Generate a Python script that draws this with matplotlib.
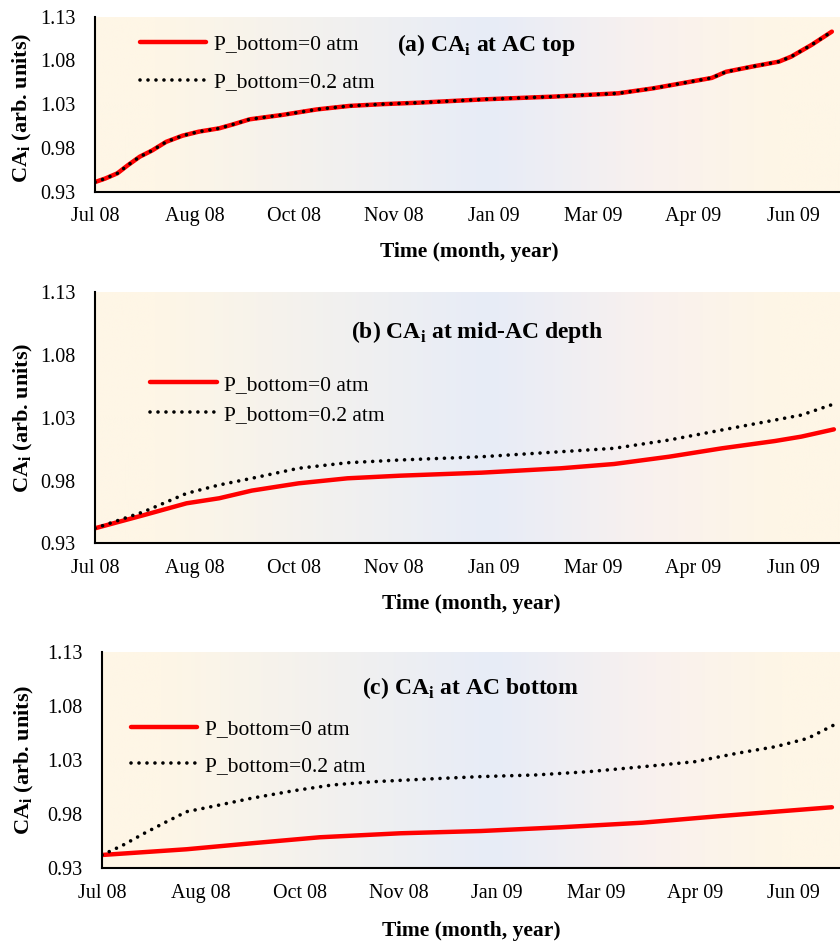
import matplotlib
matplotlib.use("Agg")
import matplotlib.pyplot as plt
from matplotlib.colors import LinearSegmentedColormap
import numpy as np

plt.rcParams['font.family'] = ['Liberation Serif', 'DejaVu Serif']
plt.rcParams['mathtext.fontset'] = 'custom'
plt.rcParams['mathtext.rm'] = 'Liberation Serif'
plt.rcParams['mathtext.bf'] = 'Liberation Serif:bold'

# x axis: days since 1 Jul 2008, labels every 49 days
tick_days = [0, 49, 98, 147, 196, 245, 294, 343]
tick_labels = ["Jul 08", "Aug 08", "Oct 08", "Nov 08", "Jan 09", "Mar 09", "Apr 09", "Jun 09"]
y_ticks = [0.93, 0.98, 1.03, 1.08, 1.13]

# (a) AC top
a_days = [0, 5, 11, 16, 22, 28, 35, 43, 51, 61, 68, 76, 92, 109, 125, 141, 159,
          192, 225, 257, 274, 290, 303, 310, 323, 336, 342, 352, 362]
a_p0 = [0.941, 0.945, 0.951, 0.960, 0.970, 0.977, 0.987, 0.994, 0.9986, 1.0024, 1.007,
        1.0127, 1.0177, 1.024, 1.028, 1.030, 1.0317, 1.0356, 1.0386, 1.0424, 1.048,
        1.0546, 1.060, 1.067, 1.073, 1.0786, 1.0843, 1.0977, 1.1129]
a_p02 = list(a_p0)

# (b) mid-AC depth
b_days = [0, 24, 45, 61, 77, 100, 124, 150, 190, 229, 255, 282, 308, 334, 347, 363]
b_p0 = [0.942, 0.9525, 0.9619, 0.9659, 0.972, 0.9778, 0.9818, 0.9839, 0.9863, 0.9898,
        0.9932, 0.999, 1.0057, 1.0115, 1.015, 1.0208]
b_p02 = [0.942, 0.9552, 0.9698, 0.9765, 0.9818, 0.9898, 0.9942, 0.9964, 0.999, 1.003,
         1.0057, 1.0123, 1.0203, 1.0282, 1.0322, 1.041]

# (c) AC bottom
c_days0 = [0, 42, 74, 108, 148, 188, 228, 268, 307, 334, 362]
c_p0 = [0.9423, 0.9476, 0.9531, 0.9587, 0.9624, 0.9645, 0.968, 0.9722, 0.9784, 0.9824, 0.9865]
c_days02 = [0, 10, 21, 32, 42, 56, 74, 95, 114, 135, 162, 188, 215, 241, 268, 294, 315,
            334, 350, 363]
c_p02 = [0.9423, 0.951, 0.9624, 0.9731, 0.9824, 0.9877, 0.9948, 1.0018, 1.0071, 1.0102,
         1.0127, 1.0149, 1.0164, 1.0194, 1.024, 1.0287, 1.0365, 1.0426, 1.0503, 1.0627]

cream = "#fef6e6"
blue = "#e7ecf7"
pinkish = "#f9f1ee"
bg_cmap = LinearSegmentedColormap.from_list(
    "bg", [(0.0, cream), (0.08, cream), (0.53, blue), (0.75, pinkish), (0.92, cream), (1.0, cream)])

fig = plt.figure(figsize=(8.4, 9.41), dpi=100)

# axes rect, title pos, legend anchor, legend row spacing, label coords
panels = [
    dict(rect=[0.1131, 0.7963, 0.8869, 0.1860], days0=a_days, y0=a_p0, days02=a_days, y02=a_p02,
         title="(a) CA$_\\mathbf{i}$ at AC top", tpos=(0.525, 0.838), lpos=(0.060, 0.901),
         lsp=0.84, xl=(0.503, -0.287), yl=(-0.082, 0.48)),
    dict(rect=[0.1131, 0.4226, 0.8869, 0.2668], days0=b_days, y0=b_p0, days02=b_days, y02=b_p02,
         title="(b) CA$_\\mathbf{i}$ at mid-AC depth", tpos=(0.513, 0.843), lpos=(0.074, 0.671),
         lsp=0.45, xl=(0.505, -0.2), yl=(-0.080, 0.5)),
    dict(rect=[0.1214, 0.0773, 0.8786, 0.2295], days0=c_days0, y0=c_p0, days02=c_days02, y02=c_p02,
         title="(c) CA$_\\mathbf{i}$ at AC bottom", tpos=(0.50, 0.835), lpos=(0.039, 0.689),
         lsp=0.76, xl=(0.50, -0.243), yl=(-0.090, 0.5)),
]

for p in panels:
    ax = fig.add_axes(p["rect"])
    ax.imshow(np.linspace(0, 1, 256).reshape(1, -1), cmap=bg_cmap, aspect='auto',
              extent=[0, 1, 0, 1], transform=ax.transAxes, zorder=0)
    ax.plot(p["days0"], p["y0"], color="#ff0000", lw=3.2, solid_capstyle='round',
            label="P_bottom=0 atm", zorder=2)
    ax.plot(p["days02"], p["y02"], color="black", lw=2.6, linestyle=(0, (0.01, 2.2)),
            dash_capstyle='round', label="P_bottom=0.2 atm", zorder=3)

    ax.set_xlim(0, 366)
    ax.set_ylim(0.93, 1.13)
    ax.set_xticks(tick_days)
    ax.set_xticklabels(tick_labels)
    ax.set_yticks(y_ticks)
    ax.set_yticklabels([f"{v:.2f}" for v in y_ticks])
    ax.tick_params(axis='both', length=0, labelsize=14.5)
    ax.tick_params(axis='x', pad=11)
    ax.tick_params(axis='y', pad=14)
    for s in ["top", "right"]:
        ax.spines[s].set_visible(False)
    for s in ["left", "bottom"]:
        ax.spines[s].set_linewidth(1.5)

    ax.set_xlabel("Time (month, year)", fontsize=15.5, fontweight='bold')
    ax.set_ylabel("CA$_\\mathbf{i}$ (arb. units)", fontsize=16, fontweight='bold')
    ax.xaxis.set_label_coords(*p["xl"])
    ax.yaxis.set_label_coords(*p["yl"])

    ax.text(p["tpos"][0], p["tpos"][1], p["title"], transform=ax.transAxes,
            ha='center', va='center', fontsize=17, fontweight='bold')

    ax.legend(loc='upper left', bbox_to_anchor=p["lpos"], frameon=False, fontsize=15.5,
              borderaxespad=0, borderpad=0, handlelength=3.1, handletextpad=0.35,
              labelspacing=p["lsp"])

fig.savefig("out.png", dpi=100)
